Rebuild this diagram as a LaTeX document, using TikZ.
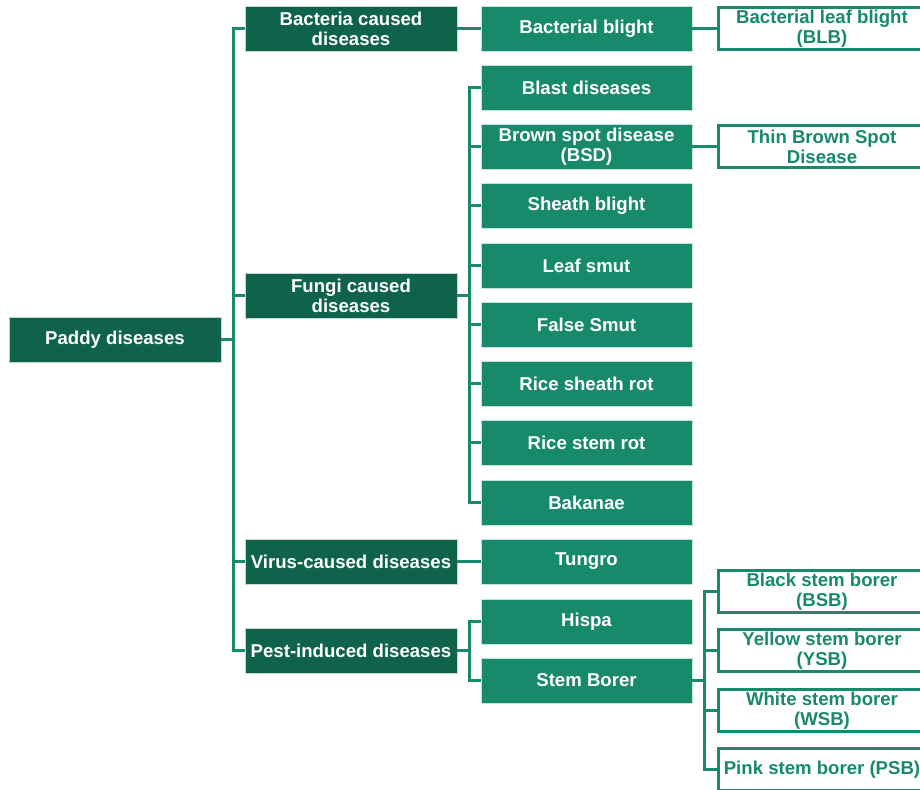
\documentclass[tikz,border=0pt]{standalone}
\usepackage{fontspec}
\setmainfont{Liberation Sans}
\definecolor{darkgr}{HTML}{0F634B}
\definecolor{midgr}{HTML}{188A6C}
\begin{document}
\begin{tikzpicture}[x=1pt,y=-1pt,
  base/.style={align=center,inner sep=0pt,font=\fontsize{18.6}{20}\selectfont\bfseries},
  topbox/.style={base,fill=darkgr,text=white,draw=white!75!darkgr,line width=0.6pt,minimum width=212pt,minimum height=45pt},
  subbox/.style={base,fill=midgr,text=white,draw=white!75!midgr,line width=0.6pt,minimum width=211pt,minimum height=45pt},
  leafbox/.style={base,fill=white,text=midgr,draw=midgr,line width=3pt,minimum width=207pt,minimum height=42pt},
  link/.style={draw=midgr,line width=3pt}]
\clip (0,0) rectangle (920,789);
\fill[white] (0,0) rectangle (920,789);

% root and first level
\node[topbox] (root) at (115,339.5) {Paddy diseases};
\node[topbox] (bact) at (351,28.5) {Bacteria caused\\diseases};
\node[topbox] (fungi) at (351,295.5) {Fungi caused\\diseases};
\node[topbox] (virus) at (351,561.5) {Virus-caused diseases};
\node[topbox] (pest) at (351,650.5) {Pest-induced diseases};

% second level
\node[subbox] (bblight) at (586.5,28.5) {Bacterial blight};
\node[subbox] (blast) at (586.5,87.5) {Blast diseases};
\node[subbox] (bsd) at (586.5,146.5) {Brown spot disease\\(BSD)};
\node[subbox] (sheath) at (586.5,205.5) {Sheath blight};
\node[subbox] (smut) at (586.5,265.5) {Leaf smut};
\node[subbox] (fsmut) at (586.5,324.5) {False Smut};
\node[subbox] (srot) at (586.5,383.5) {Rice sheath rot};
\node[subbox] (strot) at (586.5,442.5) {Rice stem rot};
\node[subbox] (bakanae) at (586.5,502.5) {Bakanae};
\node[subbox] (tungro) at (586.5,561.5) {Tungro};
\node[subbox] (hispa) at (586.5,621.5) {Hispa};
\node[subbox] (borer) at (586.5,680.5) {Stem Borer};

% third level
\node[leafbox] (blb) at (822,28.5) {Bacterial leaf blight\\(BLB)};
\node[leafbox] (tbsd) at (822,146.5) {Thin Brown Spot\\Disease};
\node[leafbox] (bsb) at (822,591.5) {Black stem borer\\(BSB)};
\node[leafbox] (ysb) at (822,650.5) {Yellow stem borer\\(YSB)};
\node[leafbox] (wsb) at (822,710.5) {White stem borer\\(WSB)};
\node[leafbox] (psb) at (822,769.5) {Pink stem borer (PSB)};

% connectors
\foreach \c in {bact,fungi,virus,pest}
  \draw[link] (root.east) -- ++(12,0) |- (\c.west);
\foreach \c in {blast,bsd,sheath,smut,fsmut,srot,strot,bakanae}
  \draw[link] (fungi.east) -- ++(12,0) |- (\c.west);
\foreach \c in {hispa,borer}
  \draw[link] (pest.east) -- ++(12,0) |- (\c.west);
\foreach \c in {bsb,ysb,wsb,psb}
  \draw[link] (borer.east) -- ++(12,0) |- (\c.west);
\draw[link] (bact) -- (bblight);
\draw[link] (bblight) -- (blb);
\draw[link] (bsd) -- (tbsd);
\draw[link] (virus) -- (tungro);
\end{tikzpicture}
\end{document}
